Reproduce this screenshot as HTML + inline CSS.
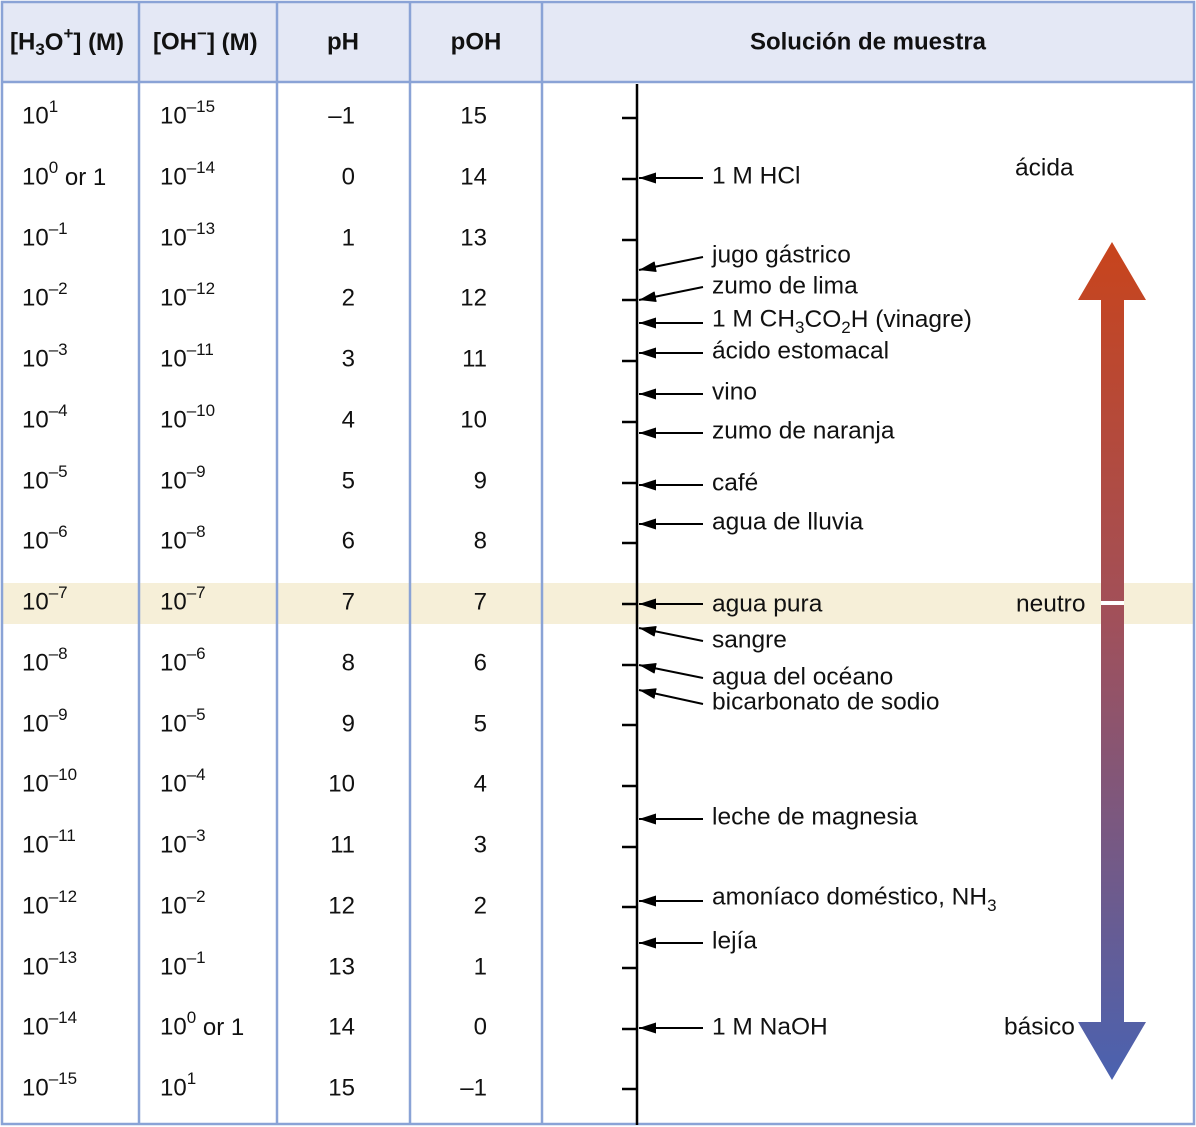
<!DOCTYPE html>
<html><head><meta charset="utf-8"><style>
html,body{margin:0;padding:0;background:#fff;}
svg{display:block;font-family:"Liberation Sans",Arial,sans-serif;}
</style></head><body>
<svg width="1196" height="1127" viewBox="0 0 1196 1127" xmlns="http://www.w3.org/2000/svg">
<defs>
<linearGradient id="g" x1="0" y1="242" x2="0" y2="1080" gradientUnits="userSpaceOnUse">
<stop offset="0" stop-color="#c8441c"/><stop offset="0.45" stop-color="#a1505a"/><stop offset="1" stop-color="#4a62b0"/>
</linearGradient>
<marker id="ah" markerWidth="18" markerHeight="11" refX="17" refY="5.5" orient="auto" markerUnits="userSpaceOnUse"><path d="M17,5.5 L0,0 L0,11 Z" fill="#000"/></marker>
</defs>
<rect x="2" y="2" width="1192" height="80" fill="#e4e8f5"/>
<rect x="2" y="583" width="1192" height="41" fill="#f6efd8"/>
<g stroke="#8aa3d6" stroke-width="2.5" fill="none">
<rect x="2" y="2" width="1192" height="1122"/>
<line x1="2" y1="82" x2="1194" y2="82"/>
<line x1="139" y1="2" x2="139" y2="1124"/>
<line x1="277" y1="2" x2="277" y2="1124"/>
<line x1="410" y1="2" x2="410" y2="1124"/>
<line x1="542" y1="2" x2="542" y2="1124"/>
</g>
<g font-size="24" font-weight="bold" fill="#111" dominant-baseline="central">
<text x="10" y="42">[H<tspan font-size="17" dy="7">3</tspan><tspan dy="-7">O</tspan><tspan font-size="17" dy="-9">+</tspan><tspan dy="9">] (M)</tspan></text>
<text x="153" y="42">[OH<tspan font-size="17" dy="-9">−</tspan><tspan dy="9">] (M)</tspan></text>
<text x="343" y="42" text-anchor="middle">pH</text>
<text x="476" y="42" text-anchor="middle">pOH</text>
<text x="868" y="42" text-anchor="middle">Solución de muestra</text>
</g>
<g font-size="24" fill="#111" dominant-baseline="central">
<text x="22" y="116">10<tspan font-size="17" dy="-10">1</tspan></text>
<text x="22" y="177">10<tspan font-size="17" dy="-10">0</tspan><tspan dy="10"> or 1</tspan></text>
<text x="22" y="238">10<tspan font-size="17" dy="-10">–1</tspan></text>
<text x="22" y="298">10<tspan font-size="17" dy="-10">–2</tspan></text>
<text x="22" y="359">10<tspan font-size="17" dy="-10">–3</tspan></text>
<text x="22" y="420">10<tspan font-size="17" dy="-10">–4</tspan></text>
<text x="22" y="481">10<tspan font-size="17" dy="-10">–5</tspan></text>
<text x="22" y="541">10<tspan font-size="17" dy="-10">–6</tspan></text>
<text x="22" y="602">10<tspan font-size="17" dy="-10">–7</tspan></text>
<text x="22" y="663">10<tspan font-size="17" dy="-10">–8</tspan></text>
<text x="22" y="724">10<tspan font-size="17" dy="-10">–9</tspan></text>
<text x="22" y="784">10<tspan font-size="17" dy="-10">–10</tspan></text>
<text x="22" y="845">10<tspan font-size="17" dy="-10">–11</tspan></text>
<text x="22" y="906">10<tspan font-size="17" dy="-10">–12</tspan></text>
<text x="22" y="967">10<tspan font-size="17" dy="-10">–13</tspan></text>
<text x="22" y="1027">10<tspan font-size="17" dy="-10">–14</tspan></text>
<text x="22" y="1088">10<tspan font-size="17" dy="-10">–15</tspan></text>

<text x="160" y="116">10<tspan font-size="17" dy="-10">–15</tspan></text>
<text x="160" y="177">10<tspan font-size="17" dy="-10">–14</tspan></text>
<text x="160" y="238">10<tspan font-size="17" dy="-10">–13</tspan></text>
<text x="160" y="298">10<tspan font-size="17" dy="-10">–12</tspan></text>
<text x="160" y="359">10<tspan font-size="17" dy="-10">–11</tspan></text>
<text x="160" y="420">10<tspan font-size="17" dy="-10">–10</tspan></text>
<text x="160" y="481">10<tspan font-size="17" dy="-10">–9</tspan></text>
<text x="160" y="541">10<tspan font-size="17" dy="-10">–8</tspan></text>
<text x="160" y="602">10<tspan font-size="17" dy="-10">–7</tspan></text>
<text x="160" y="663">10<tspan font-size="17" dy="-10">–6</tspan></text>
<text x="160" y="724">10<tspan font-size="17" dy="-10">–5</tspan></text>
<text x="160" y="784">10<tspan font-size="17" dy="-10">–4</tspan></text>
<text x="160" y="845">10<tspan font-size="17" dy="-10">–3</tspan></text>
<text x="160" y="906">10<tspan font-size="17" dy="-10">–2</tspan></text>
<text x="160" y="967">10<tspan font-size="17" dy="-10">–1</tspan></text>
<text x="160" y="1027">10<tspan font-size="17" dy="-10">0</tspan><tspan dy="10"> or 1</tspan></text>
<text x="160" y="1088">10<tspan font-size="17" dy="-10">1</tspan></text>
</g>
<g font-size="24" fill="#111" dominant-baseline="central" text-anchor="end">
<text x="355" y="116">–1</text><text x="355" y="177">0</text><text x="355" y="238">1</text><text x="355" y="298">2</text>
<text x="355" y="359">3</text><text x="355" y="420">4</text><text x="355" y="481">5</text><text x="355" y="541">6</text>
<text x="355" y="602">7</text><text x="355" y="663">8</text><text x="355" y="724">9</text><text x="355" y="784">10</text>
<text x="355" y="845">11</text><text x="355" y="906">12</text><text x="355" y="967">13</text><text x="355" y="1027">14</text><text x="355" y="1088">15</text>
<text x="487" y="116">15</text><text x="487" y="177">14</text><text x="487" y="238">13</text><text x="487" y="298">12</text>
<text x="487" y="359">11</text><text x="487" y="420">10</text><text x="487" y="481">9</text><text x="487" y="541">8</text>
<text x="487" y="602">7</text><text x="487" y="663">6</text><text x="487" y="724">5</text><text x="487" y="784">4</text>
<text x="487" y="845">3</text><text x="487" y="906">2</text><text x="487" y="967">1</text><text x="487" y="1027">0</text><text x="487" y="1088">–1</text>
</g>
<g stroke="#000" stroke-width="2.5">
<line x1="637" y1="84" x2="637" y2="1125"/>
<line x1="622" y1="118" x2="637" y2="118"/><line x1="622" y1="179" x2="637" y2="179"/><line x1="622" y1="240" x2="637" y2="240"/>
<line x1="622" y1="300" x2="637" y2="300"/><line x1="622" y1="361" x2="637" y2="361"/><line x1="622" y1="422" x2="637" y2="422"/>
<line x1="622" y1="483" x2="637" y2="483"/><line x1="622" y1="543" x2="637" y2="543"/><line x1="622" y1="604" x2="637" y2="604"/>
<line x1="622" y1="665" x2="637" y2="665"/><line x1="622" y1="725" x2="637" y2="725"/><line x1="622" y1="786" x2="637" y2="786"/>
<line x1="622" y1="847" x2="637" y2="847"/><line x1="622" y1="907" x2="637" y2="907"/><line x1="622" y1="968" x2="637" y2="968"/>
<line x1="622" y1="1029" x2="637" y2="1029"/><line x1="622" y1="1089" x2="637" y2="1089"/>
</g>
<g stroke="#000" stroke-width="2" marker-end="url(#ah)">
<line x1="703" y1="178" x2="639" y2="178"/>
<line x1="703" y1="257" x2="639" y2="270"/>
<line x1="703" y1="287" x2="639" y2="300"/>
<line x1="703" y1="323" x2="639" y2="323"/>
<line x1="703" y1="353" x2="639" y2="353"/>
<line x1="703" y1="394" x2="639" y2="394"/>
<line x1="703" y1="433" x2="639" y2="433"/>
<line x1="703" y1="485" x2="639" y2="485"/>
<line x1="703" y1="524" x2="639" y2="524"/>
<line x1="703" y1="604" x2="639" y2="604"/>
<line x1="703" y1="641" x2="639" y2="628"/>
<line x1="703" y1="678" x2="639" y2="665"/>
<line x1="703" y1="704" x2="639" y2="690"/>
<line x1="703" y1="819" x2="639" y2="819"/>
<line x1="703" y1="901" x2="639" y2="901"/>
<line x1="703" y1="943" x2="639" y2="943"/>
<line x1="703" y1="1028" x2="639" y2="1028"/>
</g>
<g font-size="24.5" fill="#111" dominant-baseline="central">
<text x="712" y="176">1 M HCl</text>
<text x="712" y="255">jugo gástrico</text>
<text x="712" y="286">zumo de lima</text>
<text x="712" y="319">1 M CH<tspan font-size="17" dy="8">3</tspan><tspan dy="-8">CO</tspan><tspan font-size="17" dy="8">2</tspan><tspan dy="-8">H (vinagre)</tspan></text>
<text x="712" y="351">ácido estomacal</text>
<text x="712" y="392">vino</text>
<text x="712" y="431">zumo de naranja</text>
<text x="712" y="483">café</text>
<text x="712" y="522">agua de lluvia</text>
<text x="712" y="604">agua pura</text>
<text x="712" y="640">sangre</text>
<text x="712" y="677">agua del océano</text>
<text x="712" y="702">bicarbonato de sodio</text>
<text x="712" y="817">leche de magnesia</text>
<text x="712" y="897">amoníaco doméstico, NH<tspan font-size="17" dy="8">3</tspan></text>
<text x="712" y="941">lejía</text>
<text x="712" y="1027">1 M NaOH</text>
<text x="1015" y="168">ácida</text>
<text x="1016" y="604">neutro</text>
<text x="1004" y="1027">básico</text>
</g>
<path d="M1112,242 L1146,300 L1124,300 L1124,1022 L1146,1022 L1112,1080 L1078,1022 L1101,1022 L1101,300 L1078,300 Z" fill="url(#g)"/>
<rect x="1101" y="601" width="23" height="4" fill="#fff"/>
</svg>
</body></html>
